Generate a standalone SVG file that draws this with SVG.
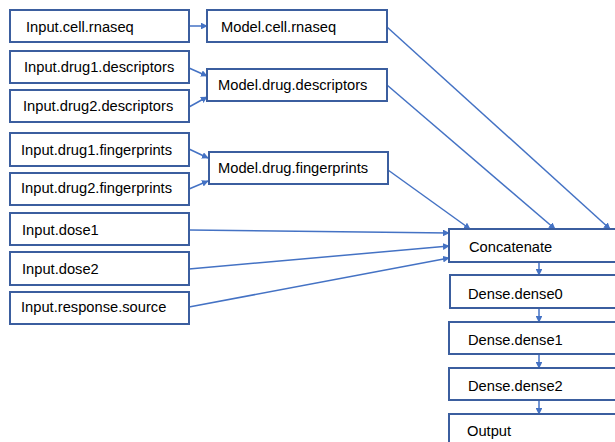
<svg xmlns="http://www.w3.org/2000/svg" width="615" height="442" viewBox="0 0 615 442">
<style>
.box{fill:#fff;stroke:#3B5E9F;stroke-width:2}
.t{font-family:"Liberation Sans",Arial,sans-serif;font-size:14.7px;fill:#000}
.c{fill:none;stroke:#4472C4;stroke-width:1.5;marker-end:url(#ah)}
</style>
<defs>
<marker id="ah" viewBox="0 0 10 10" refX="9" refY="5" markerWidth="4.5" markerHeight="4.5" orient="auto" markerUnits="strokeWidth">
<path d="M0,0 L10,5 L0,10 z" fill="#4472C4"/>
</marker>
</defs>
<rect width="615" height="442" fill="#fff"/>
<g id="connectors">
<line class="c" x1="189" y1="26" x2="207" y2="26"/>
<line class="c" x1="189" y1="68" x2="207" y2="76"/>
<line class="c" x1="189" y1="107" x2="207" y2="97"/>
<line class="c" x1="189" y1="149" x2="208" y2="158"/>
<line class="c" x1="189" y1="189" x2="208" y2="181"/>
<line class="c" x1="387" y1="27" x2="610" y2="229"/>
<line class="c" x1="387" y1="85" x2="555" y2="229"/>
<line class="c" x1="388" y1="170" x2="470" y2="229"/>
<line class="c" x1="189" y1="230" x2="449" y2="233"/>
<line class="c" x1="189" y1="269" x2="449" y2="246"/>
<line class="c" x1="189" y1="307" x2="449" y2="258"/>
<line class="c" x1="539" y1="262" x2="539" y2="275"/>
<line class="c" x1="539" y1="308" x2="539" y2="322"/>
<line class="c" x1="539" y1="354" x2="539" y2="368"/>
<line class="c" x1="539" y1="400" x2="539" y2="414"/>
</g>
<g id="in_rnaseq"><rect class="box" x="10" y="10" width="179" height="32"/><text class="t" x="26" y="32">Input.cell.rnaseq</text></g>
<g id="in_d1desc"><rect class="box" x="10" y="51" width="179" height="32"/><text class="t" x="24" y="71.5">Input.drug1.descriptors</text></g>
<g id="in_d2desc"><rect class="box" x="10" y="90" width="179" height="32"/><text class="t" x="23" y="111">Input.drug2.descriptors</text></g>
<g id="in_d1fp"><rect class="box" x="10" y="133" width="179" height="33"/><text class="t" x="21" y="155">Input.drug1.fingerprints</text></g>
<g id="in_d2fp"><rect class="box" x="10" y="173" width="179" height="32"/><text class="t" x="21" y="193">Input.drug2.fingerprints</text></g>
<g id="in_dose1"><rect class="box" x="10" y="213" width="179" height="32"/><text class="t" x="22" y="235">Input.dose1</text></g>
<g id="in_dose2"><rect class="box" x="10" y="252" width="179" height="33"/><text class="t" x="22" y="274">Input.dose2</text></g>
<g id="in_resp"><rect class="box" x="10" y="292" width="179" height="32"/><text class="t" x="21" y="312">Input.response.source</text></g>
<g id="m_rnaseq"><rect class="box" x="207" y="10" width="180" height="32"/><text class="t" x="221" y="32">Model.cell.rnaseq</text></g>
<g id="m_desc"><rect class="box" x="207" y="69" width="180" height="32"/><text class="t" x="218" y="90">Model.drug.descriptors</text></g>
<g id="m_fp"><rect class="box" x="209" y="152" width="179" height="32"/><text class="t" x="218" y="172.5">Model.drug.fingerprints</text></g>
<g id="concat"><rect class="box" x="449" y="229" width="180" height="33"/><text class="t" x="469" y="251.5">Concatenate</text></g>
<g id="dense0"><rect class="box" x="450" y="275" width="180" height="33"/><text class="t" x="468" y="299">Dense.dense0</text></g>
<g id="dense1"><rect class="box" x="449" y="322" width="180" height="32"/><text class="t" x="468" y="345">Dense.dense1</text></g>
<g id="dense2"><rect class="box" x="449" y="368" width="180" height="32"/><text class="t" x="468" y="391">Dense.dense2</text></g>
<g id="output"><rect class="box" x="449" y="414" width="180" height="40"/><text class="t" x="467" y="436">Output</text></g>
</svg>
